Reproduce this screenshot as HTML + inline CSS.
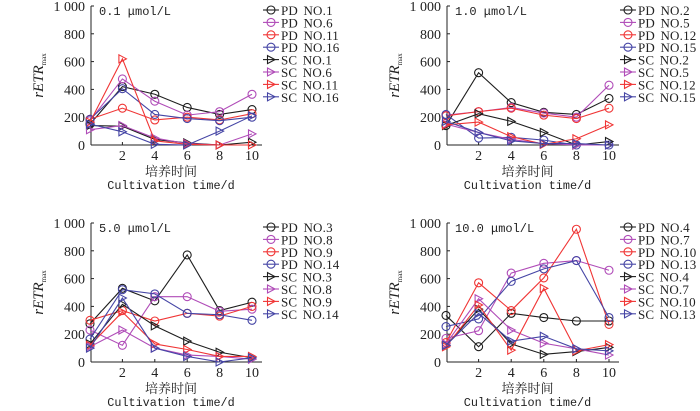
<!DOCTYPE html>
<html><head><meta charset="utf-8"><style>
html,body{margin:0;padding:0;background:#fff;}
svg{display:block;}
text{font-family:"Liberation Serif","Noto Serif CJK SC",serif;fill:#222;}
.mono{font-family:"Liberation Mono","Noto Sans CJK SC",monospace;}
.leg{font-family:"Liberation Serif",serif;letter-spacing:0.2px;word-spacing:2px;}
</style></head><body>
<svg id="chart" width="700" height="411" viewBox="0 0 700 411"></svg>
<script>
const days = [0, 2, 4, 6, 8, 10];
const yTicks = [0, 200, 400, 600, 800, 1000];
const yTickLabels = ["0", "200", "400", "600", "800", "1 000"];
const xTicks = [2, 4, 6, 8, 10];
const panelTitles = ["0.1 μmol/L", "1.0 μmol/L", "5.0 μmol/L", "10.0 μmol/L"];
const seriesNames = [
  ["PD NO.1","PD NO.6","PD NO.11","PD NO.16","SC NO.1","SC NO.6","SC NO.11","SC NO.16"],
  ["PD NO.2","PD NO.5","PD NO.12","PD NO.15","SC NO.2","SC NO.5","SC NO.12","SC NO.15"],
  ["PD NO.3","PD NO.8","PD NO.9","PD NO.14","SC NO.3","SC NO.8","SC NO.9","SC NO.14"],
  ["PD NO.4","PD NO.7","PD NO.10","PD NO.13","SC NO.4","SC NO.7","SC NO.10","SC NO.13"]
];
const p1Values = [
  [150,420,365,270,220,255],[175,475,315,215,240,365],[185,265,180,200,180,225],[185,405,220,190,175,200],
  [140,135,40,15,0,20],[110,140,50,10,0,80],[165,620,30,5,0,0],[150,95,5,0,100,210]
];
const p2Values = [
  [140,520,305,235,220,335],[215,240,270,230,200,430],[210,240,265,215,190,265],[220,50,55,35,0,0],
  [140,225,170,90,0,25],[150,90,40,10,0,0],[145,165,60,5,45,145],[170,90,30,10,10,0]
];
const p3Values = [
  [275,530,440,770,370,430],[230,120,470,470,365,380],[300,370,295,350,330,400],[165,520,490,350,340,300],
  [130,415,260,150,70,30],[110,230,100,50,40,20],[120,360,130,90,40,40],[100,460,100,40,0,30]
];
const p4Values = [
  [335,110,350,320,295,295],[170,225,640,710,730,660],[140,570,370,605,955,270],[255,310,580,670,730,320],
  [120,380,130,55,75,105],[130,455,230,135,95,50],[110,410,85,530,80,125],[120,350,150,185,95,80]
];
const allValues = [p1Values, p2Values, p3Values, p4Values];
const colors = ["#1e1e1e","#b04cb8","#f03535","#4545a5","#1e1e1e","#b04cb8","#f03535","#4545a5"];

const NS = "http://www.w3.org/2000/svg";
const svg = document.getElementById("chart");
function mk(tag, attrs, parent) {
  const e = document.createElementNS(NS, tag);
  for (const k in attrs) e.setAttribute(k, attrs[k]);
  (parent || svg).appendChild(e);
  return e;
}
const layouts = [
  {x0: 90, xs: 16.2, y0: 145, ys: 0.139, ax: 91, lx: 263, ly: 10},
  {x0: 446, xs: 16.3, y0: 145, ys: 0.139, ax: 447, lx: 620, ly: 10},
  {x0: 90, xs: 16.2, y0: 362, ys: 0.139, ax: 91, lx: 263, ly: 227},
  {x0: 446, xs: 16.3, y0: 362, ys: 0.139, ax: 447, lx: 620, ly: 227}
];
function marker(g, shape, x, y, c) {
  if (shape === 0) {
    const m = mk("circle", {cx: x, cy: y, r: 4, fill: "none", stroke: c, "stroke-width": 1.1}, g);
    
    
  } else {
    const m = mk("polygon", {points: `${x-3.5},${y-4} ${x+4},${y} ${x-3.5},${y+4}`, fill: "none", stroke: c, "stroke-width": 1.1}, g);
    
    
  }
}
allValues.forEach((vals, p) => {
  const L = layouts[p];
  const sx = d => L.x0 + d * L.xs;
  const sy = v => L.y0 - v * L.ys;
  const g = mk("g", {});
  
  
  const ya = mk("line", {x1: L.ax, y1: sy(1000), x2: L.ax, y2: L.y0, stroke: "#222", "stroke-width": 1}, g);
  
  
  const xa = mk("line", {x1: L.ax, y1: L.y0, x2: sx(10) + 10, y2: L.y0, stroke: "#222", "stroke-width": 1}, g);
  
  
  yTicks.forEach((t, i) => {
    mk("line", {x1: L.ax, y1: sy(t), x2: L.ax + 3, y2: sy(t), stroke: "#222"}, g);
    const tl = mk("text", {x: L.ax - 6, y: sy(t) + 5, "text-anchor": "end", "font-size": 14}, g);
    tl.textContent = yTickLabels[i];
    
    
  });
  xTicks.forEach(t => {
    mk("line", {x1: sx(t), y1: L.y0, x2: sx(t), y2: L.y0 - 3, stroke: "#222"}, g);
    const tl = mk("text", {x: sx(t), y: L.y0 + 15, "text-anchor": "middle", "font-size": 14}, g);
    tl.textContent = t;
    
    
  });
  const tt = mk("text", {x: L.ax + 8, y: sy(1000) + 9, "font-size": 12, class: "mono"}, g);
  tt.textContent = panelTitles[p];
  
  
  const yl = mk("text", {x: 0, y: 0, transform: `translate(${L.ax - 48},${sy(500)}) rotate(-90)`, "text-anchor": "middle", "font-size": 15, "font-style": "italic"}, g);
  yl.innerHTML = 'rETR<tspan font-size="7" font-style="normal" dy="3">max</tspan>';
  
  
  const xl1 = mk("text", {x: sx(5), y: L.y0 + 31, "text-anchor": "middle", "font-size": 13}, g);
  xl1.textContent = "培养时间";
  
  
  const xl2 = mk("text", {x: sx(5), y: L.y0 + 44, "text-anchor": "middle", "font-size": 11.8, class: "mono"}, g);
  xl2.textContent = "Cultivation time/d";
  
  
  vals.forEach((s, i) => {
    const c = colors[i];
    const sg = mk("g", {}, g);
    
    
    const pts = s.map((v, j) => sx(days[j]) + "," + sy(v)).join(" ");
    const pl = mk("polyline", {points: pts, fill: "none", stroke: c, "stroke-width": 1.1}, sg);
    
    
    s.forEach((v, j) => marker(sg, i < 4 ? 0 : 1, sx(days[j]), sy(v), c));
    const ly = L.ly + i * 12.4;
    const lg = mk("g", {}, g);
    
    
    mk("line", {x1: L.lx, y1: ly, x2: L.lx + 16, y2: ly, stroke: c, "stroke-width": 1.1}, lg);
    marker(lg, i < 4 ? 0 : 1, L.lx + 8, ly, c);
    const lt = mk("text", {x: L.lx + 18, y: ly + 5, "font-size": 13, class: "leg"}, lg);
    lt.textContent = seriesNames[p][i];
  });
});
</script>
</body></html>
